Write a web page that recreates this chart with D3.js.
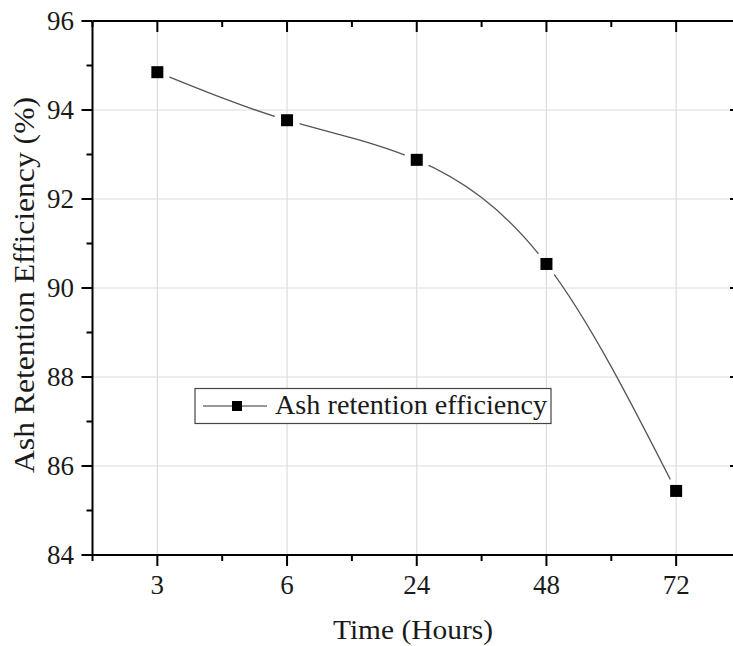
<!DOCTYPE html>
<html><head><meta charset="utf-8">
<script src="https://cdn.jsdelivr.net/npm/d3@7"></script>
<style>body{margin:0;background:#fff}svg{display:block}text{font-family:"Liberation Serif","Times New Roman",serif;fill:#1a1a1a}</style>
</head><body>
<svg id="c" width="733" height="646"></svg>
<script>
const categories = ["3","6","24","48","72"];
const values = [94.85, 93.77, 92.88, 90.54, 85.44];
const yTicks = [84, 86, 88, 90, 92, 94, 96];
const seriesName = "Ash retention efficiency";
const xTitle = "Time (Hours)";
const yTitle = "Ash Retention Efficiency (%)";

const L = 92.5, R = 741, T = 21, B = 555;
const svg = d3.select("#c");
const x = d3.scalePoint().domain(categories).range([L, R]).padding(0.5);
const y = d3.scaleLinear().domain([84, 96]).range([B, T]);
const step = x.step();
const minorX = categories.slice(0, -1).map(c => x(c) + step / 2).concat([x(categories[0]) - step/2]);
const minorY = d3.range(85, 96, 2);

// grid
const g = svg.append("g");
g.selectAll(".gx").data(categories).join("line")
  .attr("x1", d => x(d)).attr("x2", d => x(d)).attr("y1", T).attr("y2", B)
  .attr("stroke", "#dcdcdc").attr("stroke-width", 1.2);
g.selectAll(".gy").data(yTicks.slice(1, -1)).join("line")
  .attr("x1", L).attr("x2", R).attr("y1", d => y(d)).attr("y2", d => y(d))
  .attr("stroke", "#dcdcdc").attr("stroke-width", 1.2);

// mask for gaps around markers
const defs = svg.append("defs");
const mask = defs.append("mask").attr("id", "gapmask").attr("maskUnits", "userSpaceOnUse")
  .attr("x", 0).attr("y", 0).attr("width", 733).attr("height", 646);
mask.append("rect").attr("width", 733).attr("height", 646).attr("fill", "#fff");
mask.selectAll("circle").data(values).join("circle")
  .attr("cx", (d, i) => x(categories[i])).attr("cy", d => y(d)).attr("r", 13).attr("fill", "#000");

const line = d3.line().x((d, i) => x(categories[i])).y(d => y(d)).curve(d3.curveNatural);
svg.append("path").datum(values).attr("d", line).attr("fill", "none")
  .attr("stroke", "#555").attr("stroke-width", 1.3).attr("mask", "url(#gapmask)");

svg.selectAll(".mk").data(values).join("rect")
  .attr("x", (d, i) => x(categories[i]) - 6).attr("y", d => y(d) - 6)
  .attr("width", 12).attr("height", 12).attr("fill", "#000");

// axes
const ax = svg.append("g").attr("stroke", "#000");
ax.append("line").attr("x1", L).attr("x2", R).attr("y1", B).attr("y2", B).attr("stroke-width", 2);
ax.append("line").attr("x1", L).attr("x2", R).attr("y1", T).attr("y2", T).attr("stroke-width", 2);
ax.append("line").attr("x1", L).attr("x2", L).attr("y1", T).attr("y2", B).attr("stroke-width", 2);
ax.append("line").attr("x1", R).attr("x2", R).attr("y1", T).attr("y2", B).attr("stroke-width", 2);
ax.selectAll(".bt").data(categories).join("line")
  .attr("x1", d => x(d)).attr("x2", d => x(d)).attr("y1", B).attr("y2", B + 11).attr("stroke-width", 2);
ax.selectAll(".bm").data(minorX).join("line")
  .attr("x1", d => d).attr("x2", d => d).attr("y1", B).attr("y2", B + 6).attr("stroke-width", 2);
ax.selectAll(".tt").data(categories).join("line")
  .attr("x1", d => x(d)).attr("x2", d => x(d)).attr("y1", T).attr("y2", T + 11).attr("stroke-width", 2);
ax.selectAll(".tm").data(minorX).join("line")
  .attr("x1", d => d).attr("x2", d => d).attr("y1", T).attr("y2", T + 6).attr("stroke-width", 2);
ax.selectAll(".lt").data(yTicks).join("line")
  .attr("x1", L - 11).attr("x2", L).attr("y1", d => y(d)).attr("y2", d => y(d)).attr("stroke-width", 2);
ax.selectAll(".lm").data(minorY).join("line")
  .attr("x1", L - 6).attr("x2", L).attr("y1", d => y(d)).attr("y2", d => y(d)).attr("stroke-width", 2);
ax.selectAll(".rt").data(yTicks).join("line")
  .attr("x1", R - 11).attr("x2", R).attr("y1", d => y(d)).attr("y2", d => y(d)).attr("stroke-width", 2);
ax.selectAll(".rm").data(minorY).join("line")
  .attr("x1", R - 6).attr("x2", R).attr("y1", d => y(d)).attr("y2", d => y(d)).attr("stroke-width", 2);

// tick labels
svg.selectAll(".yl").data(yTicks).join("text")
  .attr("x", 74).attr("y", d => y(d)).attr("dy", "0.35em").attr("text-anchor", "end")
  .attr("font-size", 27).text(d => d);
svg.selectAll(".xl").data(categories).join("text")
  .attr("x", d => x(d)).attr("y", 594).attr("text-anchor", "middle")
  .attr("font-size", 27).text(d => d);

// titles
svg.append("text").attr("x", 413).attr("y", 639).attr("text-anchor", "middle")
  .attr("font-size", 28).attr("textLength", 160).attr("lengthAdjust", "spacingAndGlyphs").text(xTitle);
svg.append("text").attr("transform", "translate(34,285) rotate(-90)").attr("text-anchor", "middle")
  .attr("font-size", 29).attr("textLength", 376).attr("lengthAdjust", "spacingAndGlyphs").text(yTitle);

// legend
const lg = svg.append("g");
lg.append("rect").attr("x", 195).attr("y", 388.5).attr("width", 356).attr("height", 35)
  .attr("fill", "#fff").attr("stroke", "#444").attr("stroke-width", 1.2);
lg.append("line").attr("x1", 203).attr("x2", 267).attr("y1", 406).attr("y2", 406).attr("stroke", "#333").attr("stroke-width", 1.2);
lg.append("rect").attr("x", 232).attr("y", 401).attr("width", 10).attr("height", 10).attr("fill", "#000");
lg.append("text").attr("x", 275).attr("y", 414).attr("font-size", 28)
  .attr("textLength", 272).attr("lengthAdjust", "spacingAndGlyphs").text(seriesName);
</script>
</body></html>
